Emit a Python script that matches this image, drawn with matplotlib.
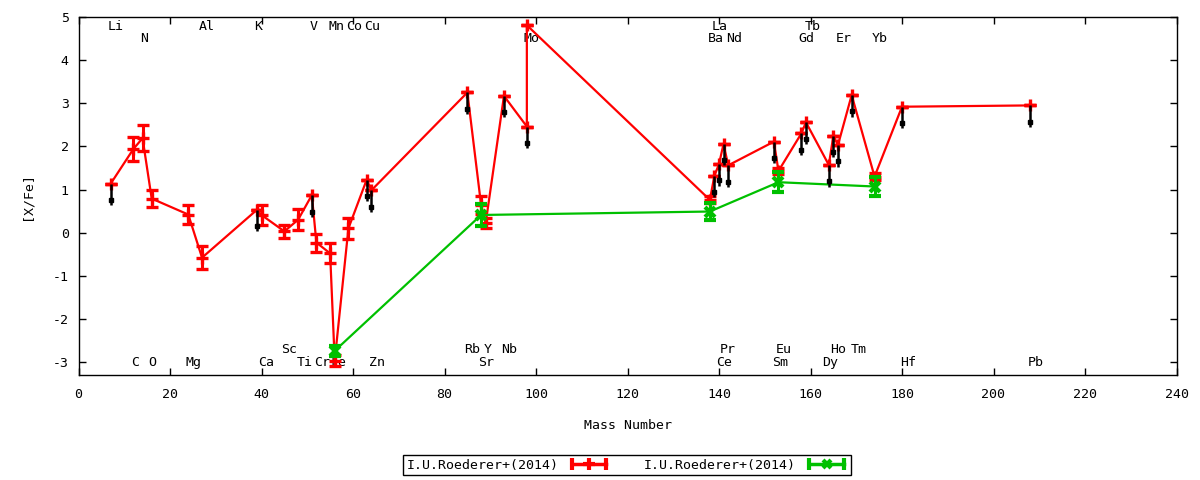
import matplotlib
matplotlib.use("Agg")
import matplotlib.pyplot as plt
from matplotlib.lines import Line2D
from matplotlib.legend_handler import HandlerLine2D, HandlerTuple

# ---------------- data ----------------
red_mass = [7, 12, 14, 16, 24, 27, 39, 40, 45, 48, 51, 52, 55, 56, 59, 63, 64,
            85, 88, 89, 93, 98, 98,
            138, 139, 140, 141, 142, 152, 153, 158, 159, 164, 165, 166, 169, 174, 180, 208]
red_val = [1.13, 1.94, 2.19, 0.79, 0.42, -0.58, 0.53, 0.41, 0.03, 0.30, 0.87, -0.23, -0.48, -2.97, 0.10, 1.23, 0.98,
           3.25, 0.64, 0.22, 3.17, 2.46, 4.81,
           0.76, 1.32, 1.59, 2.06, 1.56, 2.11, 1.43, 2.30, 2.56, 1.57, 2.25, 2.03, 3.19, 1.30, 2.92, 2.95]
red_err = [0.0, 0.27, 0.30, 0.20, 0.23, 0.27, 0.0, 0.23, 0.15, 0.24, 0.0, 0.21, 0.23, 0.13, 0.25, 0.0, 0.0,
           0.0, 0.20, 0.12, 0.0, 0.0, 0.0,
           0.08, 0.0, 0.0, 0.0, 0.0, 0.0, 0.08, 0.0, 0.0, 0.0, 0.0, 0.0, 0.0, 0.08, 0.0, 0.0]
# upper limits (drawn as black downward arrows)
red_upper = [True, False, False, False, False, False, True, False, False, False, True, False, False, False, False, True, True,
             True, False, False, True, True, False,
             False, True, True, True, True, True, False, True, True, True, True, True, True, False, True, True]

green_mass = [56, 88, 138, 153, 174]
green_val = [-2.74, 0.41, 0.49, 1.17, 1.07]
green_err = [0.12, 0.25, 0.19, 0.23, 0.23]

label_names = ["Li", "Al", "K", "V", "Mn", "Co", "Cu", "La", "Tb",
               "N", "Mo", "Ba", "Nd", "Gd", "Er", "Yb",
               "Sc", "Rb", "Y", "Nb", "Pr", "Eu", "Ho", "Tm",
               "C", "O", "Mg", "Ca", "Ti", "Cr", "Fe", "Zn", "Sr", "Ce", "Sm", "Dy", "Hf", "Pb"]
label_x = [8.1, 28.0, 39.2, 51.3, 56.3, 60.2, 64.1, 140.2, 160.4,
           14.3, 99.1, 139.3, 143.3, 159.2, 167.3, 175.2,
           46.1, 86.1, 89.4, 94.2, 142.0, 154.2, 166.1, 170.6,
           12.3, 16.2, 25.2, 41.1, 49.4, 53.2, 56.8, 65.2, 89.1, 141.2, 153.3, 164.2, 181.3, 209.3]
label_row = [0] * 9 + [1] * 7 + [2] * 8 + [3] * 14
row_y = [4.77, 4.51, -2.70, -3.02]

legend_labels = ["I.U.Roederer+(2014)", "I.U.Roederer+(2014)"]

# ---------------- style ----------------
RED = "#ff0000"
GREEN = "#00c000"
FONT = ["DejaVu Sans Mono"]
FS = 9.5
plt.rcParams["font.family"] = FONT
plt.rcParams["font.size"] = FS
plt.rcParams["axes.unicode_minus"] = False

fig = plt.figure(figsize=(12, 4.8), dpi=100)
ax = fig.add_axes([78.5 / 1200, 1 - 375 / 480, (1176.5 - 78.5) / 1200, (375 - 17) / 480])

# labels of elements
for name, x, r in zip(label_names, label_x, label_row):
    ax.text(x, row_y[r], name, ha="center", va="center", fontsize=FS, zorder=1)

# red series
ax.plot(red_mass, red_val, color=RED, lw=1.6, zorder=3)
ax.errorbar(red_mass, red_val, yerr=red_err, fmt="+", color=RED, ms=9, mew=2.4,
            elinewidth=2.2, capsize=4, capthick=2.2, zorder=4)

# green series
ax.plot(green_mass, green_val, color=GREEN, lw=1.6, zorder=5)
ax.errorbar(green_mass, green_val, yerr=green_err, fmt="x", color=GREEN, ms=7, mew=3,
            elinewidth=2.2, capsize=4, capthick=2.2, zorder=6)

# upper limit arrows
ul_x = [m for m, u in zip(red_mass, red_upper) if u]
ul_y = [v for v, u in zip(red_val, red_upper) if u]
ax.vlines(ul_x, [y - 0.5 for y in ul_y], ul_y, color="black", lw=1.8, zorder=7)
ax.plot(ul_x, [y - 0.38 for y in ul_y], ls="none", marker="s", ms=3.5, color="black", zorder=7)

ax.set_xlim(0, 240)
ax.set_ylim(-3.3, 5)
ax.set_xticks(range(0, 241, 20))
ax.set_yticks(range(-3, 6))
ax.tick_params(direction="in", top=True, right=True, length=5, width=1, labelsize=FS)
ax.tick_params(axis="x", pad=9)
ax.tick_params(axis="y", pad=7)
for s in ax.spines.values():
    s.set_linewidth(1)
ax.set_xlabel("Mass Number", fontsize=FS, labelpad=13)
ax.set_ylabel("[X/Fe]", fontsize=FS, labelpad=14)

# legend
r_line = Line2D([], [], color=RED, lw=2.5, marker="|", ms=8, mew=3)
r_mark = Line2D([], [], color=RED, lw=0, marker="+", ms=8, mew=3)
g_line = Line2D([], [], color=GREEN, lw=2.5, marker="|", ms=8, mew=3)
g_mark = Line2D([], [], color=GREEN, lw=0, marker="x", ms=6, mew=3)
hm = {r_line: HandlerLine2D(numpoints=2), g_line: HandlerLine2D(numpoints=2),
      r_mark: HandlerLine2D(numpoints=1), g_mark: HandlerLine2D(numpoints=1)}
leg = fig.legend([(r_line, r_mark), (g_line, g_mark)], legend_labels,
                 handler_map={tuple: HandlerTuple(ndivide=1, pad=0), **hm},
                 loc="center", bbox_to_anchor=(627 / 1200, 1 - 465 / 480), ncol=2,
                 markerfirst=False, fancybox=False, framealpha=1, edgecolor="black",
                 handlelength=3.2, handletextpad=0.7, columnspacing=2.6,
                 borderpad=0.25, borderaxespad=0, fontsize=FS)
leg.get_frame().set_linewidth(1)
leg._legend_box.sep = 0
leg.get_frame().set_boxstyle("square", pad=0)

fig.savefig("out.png", dpi=100)
